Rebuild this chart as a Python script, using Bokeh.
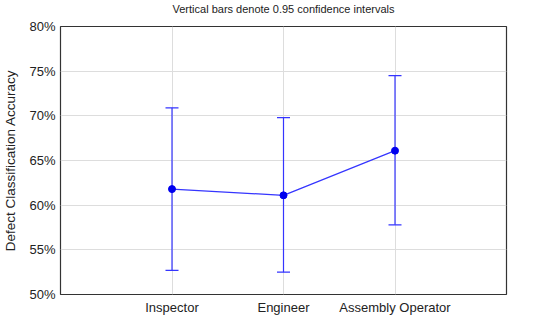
from bokeh.plotting import figure
from bokeh.models import ColumnDataSource, Whisker, TeeHead, FixedTicker, Range1d, Title
from bokeh.embed import file_html
from bokeh.resources import INLINE

categories = ["Inspector", "Engineer", "Assembly Operator"]
means = [61.8, 61.1, 66.1]
lowers = [52.7, 52.5, 57.8]
uppers = [70.9, 69.8, 74.5]
y_ticks = [50, 55, 60, 65, 70, 75, 80]
title_text = "Vertical bars denote 0.95 confidence intervals"

xs = list(range(1, len(categories) + 1))
src = ColumnDataSource(data=dict(x=xs, mean=means, lower=lowers, upper=uppers))

p = figure(width=534, height=317, output_backend="svg", toolbar_location=None,
           x_range=Range1d(0, len(categories) + 1), y_range=Range1d(50, 80),
           min_border_left=0, min_border_right=28, min_border_top=0, min_border_bottom=0)

# spacer between title and frame
p.add_layout(Title(text=" ", text_font_size="9px", standoff=0), "above")
p.add_layout(Title(text=title_text, align="center", text_font="Liberation Sans",
                   text_font_size="11px", text_font_style="normal", text_color="#222222",
                   standoff=0, offset=0), "above")

blue = "#3535ff"
p.line("x", "mean", source=src, line_color=blue, line_width=1.2)
p.scatter("x", "mean", source=src, size=7, fill_color="#0000ee", line_color="#0000ee")

w = Whisker(base="x", upper="upper", lower="lower", source=src, line_color=blue, line_width=1.2,
            upper_head=TeeHead(size=13, line_color=blue, line_width=1.2),
            lower_head=TeeHead(size=13, line_color=blue, line_width=1.2))
p.add_layout(w)

p.xaxis.ticker = FixedTicker(ticks=xs)
p.xaxis.major_label_overrides = {x: c for x, c in zip(xs, categories)}
p.yaxis.ticker = FixedTicker(ticks=y_ticks)
p.yaxis.major_label_overrides = {t: f"{t}%" for t in y_ticks}

for ax in (p.xaxis[0], p.yaxis[0]):
    ax.axis_line_color = None
    ax.major_tick_line_color = None
    ax.minor_tick_line_color = None
    ax.major_tick_out = 0
    ax.major_tick_in = 0
    ax.minor_tick_out = 0
    ax.major_label_text_font = "Liberation Sans"
    ax.major_label_text_font_size = "13px"
    ax.major_label_text_color = "#222222"
    ax.major_label_standoff = 5

p.xaxis.axis_label = None
p.xaxis.axis_label_standoff = 0

p.yaxis.axis_label = "Defect Classification Accuracy"
p.yaxis.axis_label_text_font = "Liberation Sans"
p.yaxis.axis_label_text_font_size = "13.5px"
p.yaxis.axis_label_text_font_style = "normal"
p.yaxis.axis_label_text_color = "#222222"
p.yaxis.axis_label_standoff = 8

p.xgrid.grid_line_color = "#dddddd"
p.ygrid.grid_line_color = "#dddddd"
p.outline_line_color = "#333333"
p.outline_line_width = 1.2

open("out.html", "w").write(file_html(p, INLINE))
